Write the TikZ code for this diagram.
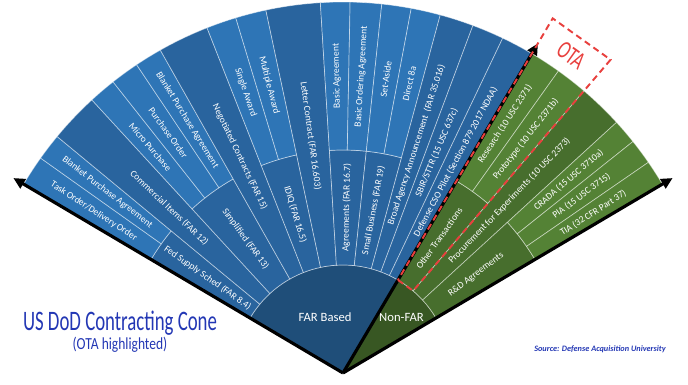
\documentclass[tikz,border=0pt]{standalone}
\usepackage{fontspec}
\usepackage{graphicx}
\setmainfont{Carlito}
\usetikzlibrary{arrows.meta}

\definecolor{hubblue}{HTML}{1F4E79}
\definecolor{midblue}{HTML}{29649E}
\definecolor{leafblue}{HTML}{2E75B6}
\definecolor{hubgreen}{HTML}{385723}
\definecolor{midgreen}{HTML}{476E2D}
\definecolor{leafgreen}{HTML}{548235}
\definecolor{otared}{HTML}{E8403E}
\definecolor{titleblue}{HTML}{2337B4}

\tikzset{
	segline/.style={draw=white, draw opacity=0.5, line width=0.4pt},
	seglabel/.style={text=white, font=\fontsize{5.4}{6}\selectfont, inner sep=0pt},
	hublabel/.style={text=white, font=\fontsize{7.2}{8}\selectfont, inner sep=0pt, anchor=base},
	conearrow/.style={line width=1.8pt, -{Triangle[length=6.5pt, width=6pt]}},
	otabox/.style={draw=otared, line width=1.1pt, dash pattern=on 3.6pt off 2.4pt},
	otatext/.style={text=otared, font=\fontsize{10}{11}\selectfont, inner sep=0pt},
	titletext/.style={text=titleblue, font=\fontsize{10.7}{12}\selectfont, inner sep=0pt, anchor=base},
	subtext/.style={text=titleblue, font=\fontsize{7.7}{9}\selectfont, inner sep=0pt, anchor=base},
	sourcetext/.style={text=titleblue, font=\fontsize{4.7}{6}\selectfont\bfseries\itshape, inner sep=0pt, anchor=base},
}

% radii of hub, inner ring and rim
\def\rhub{10.8}
\def\rring{22.3}
\def\rrim{37.1}

% one slice of the cone: #1,#2 angles, #3,#4 radii, #5 colour, #6 name, #7 text
\newcommand{\coneslice}[7]{%
	\filldraw[fill=#5, segline] (#1:#3) arc[start angle=#1, end angle=#2, radius=#3] -- (#2:#4) arc[start angle=#2, end angle=#1, radius=#4] -- cycle;
	\pgfmathsetmacro{\midang}{(#1+#2)/2}
	\pgfmathsetmacro{\midrad}{(#3+#4)/2}
	\pgfmathsetmacro{\labrot}{\midang>95 ? \midang-180 : \midang}
	\node[seglabel, rotate=\labrot] (#6) at (\midang:\midrad) {#7};
}

\begin{document}
\begin{tikzpicture}[scale=0.2]

	\useasboundingbox (-34.3,-1.2) rectangle (34.5,37.3);
	\coordinate (apex) at (0,0);

	% hub
	\filldraw[fill=hubblue, segline] (apex) -- (59.4:\rhub) arc[start angle=59.4, end angle=149.4, radius=\rhub] -- cycle;
	\filldraw[fill=hubgreen, segline] (apex) -- (30.6:\rhub) arc[start angle=30.6, end angle=59.4, radius=\rhub] -- cycle;
	\node[hublabel] (farbased) at (-1.8,5.1) {FAR Based};
	\node[hublabel] (nonfar) at (5.85,5.1) {Non-FAR};

	% FAR based
	\coneslice{140.4}{149.4}{\rhub}{\rring}{midblue}{fedsupply}{Fed Supply Sched (FAR 8.4)}
	\coneslice{144.6}{149.4}{\rring}{\rrim}{leafblue}{taskorder}{Task Order/Delivery Order}
	\coneslice{140.4}{144.6}{\rring}{\rrim}{leafblue}{fedbpa}{Blanket Purchase Agreement}
	\coneslice{132.6}{140.4}{\rhub}{\rrim}{midblue}{commercial}{Commercial Items (FAR 12)}
	\coneslice{119.5}{132.6}{\rhub}{\rring}{midblue}{simplified}{Simplified (FAR 13)}
	\coneslice{128.3}{132.6}{\rring}{\rrim}{leafblue}{micro}{Micro Purchase}
	\coneslice{123.8}{128.3}{\rring}{\rrim}{leafblue}{purchase}{Purchase Order}
	\coneslice{119.5}{123.8}{\rring}{\rrim}{leafblue}{simpbpa}{Blanket Purchase Agreement}
	\coneslice{111.5}{119.5}{\rhub}{\rrim}{midblue}{negotiated}{Negotiated Contracts (FAR 15)}
	\coneslice{102}{111.5}{\rhub}{\rring}{midblue}{idiq}{IDIQ (FAR 16.5)}
	\coneslice{106.8}{111.5}{\rring}{\rrim}{leafblue}{single}{Single Award}
	\coneslice{102}{106.8}{\rring}{\rrim}{leafblue}{multiple}{Multiple Award}
	\coneslice{93.5}{102}{\rhub}{\rrim}{midblue}{letter}{Letter Contract (FAR 16.603)}
	\coneslice{84}{93.5}{\rhub}{\rring}{midblue}{agreements}{Agreements (FAR 16.7)}
	\coneslice{88.9}{93.5}{\rring}{\rrim}{leafblue}{basic}{Basic Agreement}
	\coneslice{84}{88.9}{\rring}{\rrim}{leafblue}{basicorder}{Basic Ordering Agreement}
	\coneslice{74.8}{84}{\rhub}{\rring}{midblue}{smallbiz}{Small Business (FAR 19)}
	\coneslice{79.4}{84}{\rring}{\rrim}{leafblue}{setaside}{Set-Aside}
	\coneslice{74.8}{79.4}{\rring}{\rrim}{leafblue}{direct}{Direct 8a}
	\coneslice{69.5}{74.8}{\rhub}{\rrim}{midblue}{baa}{Broad Agency Announcement\ \ (FAR 35.016)}
	\coneslice{64.5}{69.5}{\rhub}{\rrim}{midblue}{sbir}{SBIR/STTR (15 USC 637c)}
	\coneslice{59.4}{64.5}{\rhub}{\rrim}{midblue}{csopilot}{Defense CSO Pilot (Section 879 2017 NDAA)}

	% Non-FAR
	\coneslice{49.5}{59.4}{\rhub}{\rring}{midgreen}{othertrans}{Other Transactions}
	\coneslice{54.5}{59.4}{\rring}{\rrim}{leafgreen}{research}{Research (10 USC 2371)}
	\coneslice{49.5}{54.5}{\rring}{\rrim}{leafgreen}{prototype}{Prototype (10 USC 2371b)}
	\coneslice{42.5}{49.5}{\rhub}{\rrim}{midgreen}{procurement}{Procurement for Experiments (10 USC 2373)}
	\coneslice{30.6}{42.5}{\rhub}{\rring}{midgreen}{rdagree}{R\&D Agreements}
	\coneslice{38.6}{42.5}{\rring}{\rrim}{leafgreen}{crada}{CRADA (15 USC 3710a)}
	\coneslice{34.6}{38.6}{\rring}{\rrim}{leafgreen}{pia}{PIA (15 USC 3715)}
	\coneslice{30.6}{34.6}{\rring}{\rrim}{leafgreen}{tia}{TIA (32 CFR Part 37)}

	% cone edges
	\coordinate (leftend) at (149.4:38.3);
	\coordinate (rightend) at (30.6:38.3);
	\coordinate (splitend) at (59.4:38.3);
	\draw[conearrow] (apex) -- (leftend);
	\draw[conearrow] (apex) -- (rightend);
	\draw[conearrow] (apex) -- (splitend);

	% OTA highlight
	\coordinate (otaA) at (59.4:\rhub);
	\coordinate (otaB) at (49.5:\rhub);
	\coordinate (otaC) at (49.5:41.2);
	\coordinate (otaD) at (59.4:41.2);
	\draw[otabox] (otaA) -- (otaB) -- (otaC) -- (otaD) -- cycle;
	\node[otatext, rotate=-35.5] (ota) at (54.3:39.1) {\scalebox{1}[1.45]{OTA}};

	% captions
	\node[titletext] (title) at (-22.3,4.2) {\scalebox{1}[1.5]{US DoD Contracting Cone}};
	\node[subtext] (subtitle) at (-22.3,2.3) {\scalebox{1}[1.25]{(OTA highlighted)}};
	\node[sourcetext] (source) at (25.7,2.1) {Source: Defense Acquisition University};

\end{tikzpicture}
\end{document}
